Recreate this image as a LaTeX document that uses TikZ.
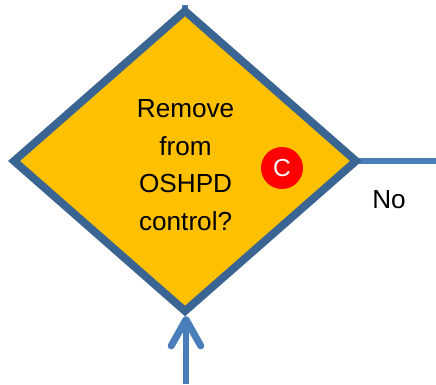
\documentclass[tikz,border=0pt]{standalone}
\usepackage{fontspec}
\setmainfont{Liberation Sans}
\usetikzlibrary{shapes.geometric,arrows.meta,backgrounds}
\definecolor{diamondline}{HTML}{3A6491}
\definecolor{flowline}{HTML}{4A7EBB}
\definecolor{diamondfill}{HTML}{FFC000}
\tikzset{
  decision/.style={diamond,draw=diamondline,fill=diamondfill,line width=5.6pt,inner sep=0pt,outer sep=0pt,minimum width=8.55cm,minimum height=7.5cm,aspect=1.14,miter limit=10},
  flow/.style={draw=flowline,line width=4.4pt},
  label/.style={font=\fontsize{18.6}{26.9}\selectfont,text=black,inner sep=0pt,align=center},
  marker/.style={circle,fill=red,text=white,inner sep=0pt,minimum size=1.05cm,font=\fontsize{17.5}{20}\selectfont}
}
\begin{document}
\begin{tikzpicture}
  \useasboundingbox (0,0) rectangle (10.9,9.6);
  \coordinate (topend) at (4.625,9.47);
  \coordinate (rightend) at (10.9,5.575);
  \coordinate (bottomend) at (4.65,0);
  \coordinate (bottomtip) at (4.65,1.7);
  \node[decision] (remove) at (4.625,5.575) {};
  \begin{scope}[on background layer]
    \draw[flow] (topend)--(remove.north);
    \draw[flow] (remove.east)--(rightend);
  \end{scope}
  \draw[flow,-{Straight Barb[length=0.66cm,width=0.74cm,line width=5pt,round]}] (bottomend)--(bottomtip);
  \node[label] (question) at (4.64,5.47) {Remove\\from\\OSHPD\\control?};
  \node[marker] (mark) at (7.05,5.4) {C};
  \node[label,anchor=west] (no) at (9.3,4.6) {No};
\end{tikzpicture}
\end{document}
